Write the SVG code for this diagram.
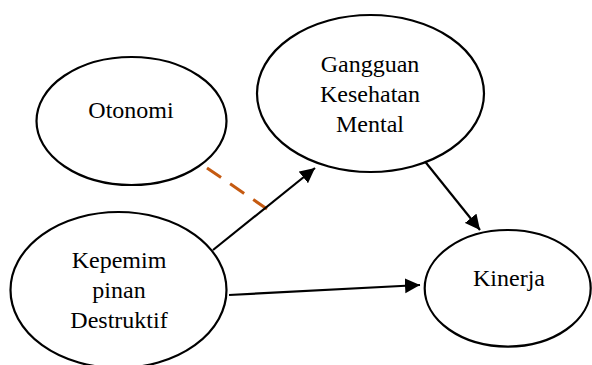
<svg xmlns="http://www.w3.org/2000/svg" width="592" height="365" viewBox="0 0 592 365">
<style>
.node ellipse{fill:#fff;stroke:#000;stroke-width:2.2}
.node text{font-family:"Liberation Serif","Times New Roman",serif;font-size:24px;fill:#000;text-anchor:middle}
.arrow{stroke:#000;stroke-width:2.2;fill:none;marker-end:url(#ah)}
.dash{stroke:#C55A11;stroke-width:3;stroke-dasharray:17 11;fill:none}
</style>
<defs>
<marker id="ah" markerUnits="userSpaceOnUse" markerWidth="16" markerHeight="16" viewBox="0 0 16 16" refX="15" refY="8" orient="auto">
<path d="M0,0.5 L15,8 L0,15.5 Z" fill="#000"/>
</marker>
</defs>
<g id="otonomi" class="node">
<ellipse cx="131.5" cy="121" rx="95" ry="64"/>
<text x="131" y="118">Otonomi</text>
</g>
<g id="gangguan" class="node">
<ellipse cx="370.5" cy="93.5" rx="113.5" ry="78.5"/>
<text x="370" y="72">Gangguan</text>
<text x="370" y="102">Kesehatan</text>
<text x="370" y="132">Mental</text>
</g>
<g id="kepemimpinan" class="node">
<ellipse cx="118.5" cy="290" rx="108" ry="78"/>
<text x="119" y="268">Kepemim</text>
<text x="119" y="298">pinan</text>
<text x="119" y="328">Destruktif</text>
</g>
<g id="kinerja" class="node">
<ellipse cx="507.7" cy="288.3" rx="83" ry="58.3"/>
<text x="509" y="286">Kinerja</text>
</g>
<g id="connectors">
<line class="dash" x1="207" y1="168" x2="267" y2="209"/>
<line class="arrow" x1="213" y1="250" x2="315" y2="168"/>
<line class="arrow" x1="425" y1="161.5" x2="480" y2="230"/>
<line class="arrow" x1="229" y1="295" x2="420" y2="285"/>
</g>
</svg>
